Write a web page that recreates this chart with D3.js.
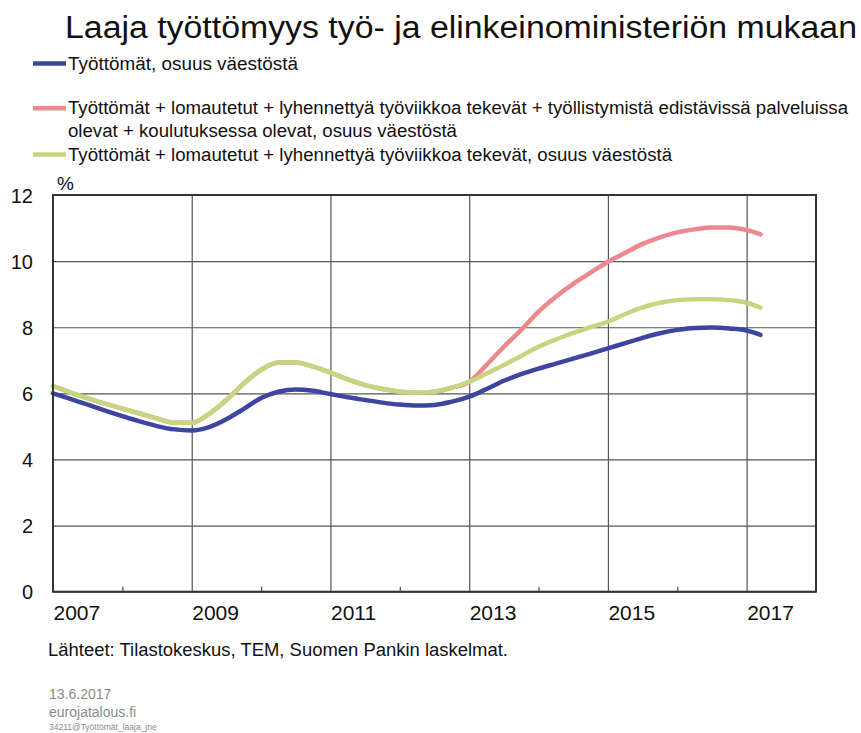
<!DOCTYPE html>
<html>
<head>
<meta charset="utf-8">
<script src="https://cdn.jsdelivr.net/npm/d3@7"></script>
<style>
  html, body { margin: 0; padding: 0; background: #fff; }
  svg { display: block; font-family: "Liberation Sans", Arial, sans-serif; }
</style>
</head>
<body>
<svg id="chart" width="861" height="733"></svg>
<script>
// ---- data ----
const dates = [2007.0, 2007.25, 2007.5, 2007.75, 2008.0, 2008.25, 2008.5, 2008.75,
  2009.0, 2009.25, 2009.5, 2009.75, 2010.0, 2010.25, 2010.5, 2010.75,
  2011.0, 2011.25, 2011.5, 2011.75, 2012.0, 2012.25, 2012.5, 2012.75,
  2013.0, 2013.25, 2013.5, 2013.75, 2014.0, 2014.25, 2014.5, 2014.75,
  2015.0, 2015.25, 2015.5, 2015.75, 2016.0, 2016.25, 2016.5, 2016.75,
  2017.0, 2017.2];

const unemployed = [6.0, 5.83, 5.66, 5.48, 5.31, 5.15, 5.01, 4.91,
  4.88, 4.98, 5.22, 5.53, 5.86, 6.05, 6.12, 6.08,
  5.98, 5.88, 5.8, 5.72, 5.66, 5.63, 5.65, 5.75,
  5.9, 6.13, 6.38, 6.58, 6.75, 6.9, 7.05, 7.2,
  7.36, 7.52, 7.68, 7.82, 7.92, 7.98, 7.99, 7.96,
  7.9, 7.77];

const broadAll = [6.22, 6.03, 5.85, 5.69, 5.54, 5.39, 5.24, 5.11,
  5.11, 5.38, 5.8, 6.3, 6.71, 6.93, 6.93, 6.81,
  6.63, 6.42, 6.25, 6.13, 6.05, 6.02, 6.05, 6.17,
  6.35, 6.86, 7.41, 7.92, 8.47, 8.92, 9.31, 9.65,
  9.98, 10.25, 10.52, 10.72, 10.87, 10.96, 11.02, 11.02,
  10.94, 10.81];

const broadLaidOff = [6.22, 6.03, 5.85, 5.69, 5.54, 5.39, 5.24, 5.11,
  5.11, 5.38, 5.8, 6.3, 6.71, 6.93, 6.93, 6.81,
  6.63, 6.42, 6.25, 6.13, 6.05, 6.02, 6.05, 6.17,
  6.35, 6.6, 6.86, 7.13, 7.41, 7.63, 7.83, 8.0,
  8.17, 8.4, 8.6, 8.74, 8.82, 8.85, 8.85, 8.82,
  8.74, 8.59];

const yTicks = [0, 2, 4, 6, 8, 10, 12];
const xLabelYears = [2007, 2009, 2011, 2013, 2015, 2017];
const xGridYears = [2009, 2011, 2013, 2015, 2017];
const xMinorYears = [2008, 2010, 2012, 2014, 2016];

const titleText = "Laaja työttömyys työ- ja elinkeinoministeriön mukaan";
const legendLabels = [
  ["Työttömät, osuus väestöstä"],
  ["Työttömät + lomautetut + lyhennettyä työviikkoa tekevät + työllistymistä edistävissä palveluissa",
   "olevat + koulutuksessa olevat, osuus väestöstä"],
  ["Työttömät + lomautetut + lyhennettyä työviikkoa tekevät, osuus väestöstä"]
];
const sourceText = "Lähteet: Tilastokeskus, TEM, Suomen Pankin laskelmat.";
const footerDate = "13.6.2017";
const footerSite = "eurojatalous.fi";
const footerCode = "34211@Työttömät_laaja_jne";

// ---- drawing ----
(function () {
const svg = d3.select("#chart");
const colors = { blue: "#3d45a0", pink: "#ec8890", green: "#c6d680" };

const pLeft = 53, pRight = 816, pTop = 195, pBottom = 591.7;
const x = d3.scaleLinear().domain([2007, 2018]).range([pLeft, pRight]);
const y = d3.scaleLinear().domain([0, 12]).range([pBottom, pTop]);

// title
svg.append("text").attr("x", 65).attr("y", 37.5)
  .attr("font-size", 31).attr("fill", "#111")
  .attr("textLength", 792).attr("lengthAdjust", "spacingAndGlyphs")
  .text(titleText);

// legend
const legendItems = [
  { color: colors.blue, y: 63.5, lines: legendLabels[0], widths: [230] },
  { color: colors.pink, y: 108.3, lines: legendLabels[1], widths: [780, 389] },
  { color: colors.green, y: 154.5, lines: legendLabels[2], widths: [604] }
];
legendItems.forEach(it => {
  svg.append("line").attr("x1", 33).attr("x2", 66)
    .attr("y1", it.y).attr("y2", it.y)
    .attr("stroke", it.color).attr("stroke-width", 4.5);
  it.lines.forEach((t, i) => {
    svg.append("text").attr("x", 68).attr("y", it.y + 6 + i * 22.7)
      .attr("font-size", 18).attr("fill", "#111")
      .attr("textLength", it.widths[i]).attr("lengthAdjust", "spacingAndGlyphs")
      .text(t);
  });
});

// horizontal gridlines
const gy = svg.append("g").attr("transform", `translate(${pLeft},0)`)
  .call(d3.axisLeft(y).tickValues(yTicks).tickSize(-(pRight - pLeft)).tickFormat(""));
gy.select(".domain").remove();
gy.selectAll("line").attr("stroke", "#555").attr("stroke-width", 1.2);

// vertical gridlines
const gx = svg.append("g").attr("transform", `translate(0,${pBottom})`)
  .call(d3.axisBottom(x).tickValues(xGridYears).tickSize(-(pBottom - pTop)).tickFormat(""));
gx.select(".domain").remove();
gx.selectAll("line").attr("stroke", "#555").attr("stroke-width", 1.2);

// minor ticks
const gm = svg.append("g").attr("transform", `translate(0,${pBottom})`)
  .call(d3.axisBottom(x).tickValues(xMinorYears).tickSize(-5).tickFormat(""));
gm.select(".domain").remove();
gm.selectAll("line").attr("stroke", "#555").attr("stroke-width", 1.2);

// y labels
const yl = svg.append("g").attr("transform", `translate(${pLeft},0)`)
  .call(d3.axisLeft(y).tickValues(yTicks).tickSize(0).tickPadding(20).tickFormat(d3.format("d")));
yl.select(".domain").remove();
yl.selectAll("text").attr("font-size", 20).attr("fill", "#111")
  .attr("font-family", "Liberation Sans, Arial, sans-serif").attr("dy", "0.35em");

// x labels
const xl = svg.append("g").attr("transform", `translate(0,${pBottom})`)
  .call(d3.axisBottom(x).tickValues(xLabelYears).tickSize(0).tickPadding(13).tickFormat(d3.format("d")));
xl.select(".domain").remove();
xl.selectAll("text").attr("font-size", 21).attr("fill", "#111")
  .attr("text-anchor", "start")
  .attr("font-family", "Liberation Sans, Arial, sans-serif");

// % label
svg.append("text").attr("x", 57).attr("y", 190).attr("font-size", 19).attr("fill", "#111").text("%");

// lines
const line = d3.line().x((d, i) => x(dates[i])).y(d => y(d)).curve(d3.curveMonotoneX);
[[broadAll, colors.pink], [broadLaidOff, colors.green], [unemployed, colors.blue]].forEach(([s, c]) => {
  svg.append("path").datum(s).attr("d", line)
    .attr("fill", "none").attr("stroke", c).attr("stroke-width", 4.5)
    .attr("stroke-linejoin", "round").attr("stroke-linecap", "round");
});

// frame
svg.append("rect").attr("x", pLeft).attr("y", pTop).attr("width", pRight - pLeft).attr("height", pBottom - pTop)
  .attr("fill", "none").attr("stroke", "#333").attr("stroke-width", 2);

// source & footer
svg.append("text").attr("x", 48).attr("y", 656).attr("font-size", 18).attr("fill", "#111")
  .attr("textLength", 460).attr("lengthAdjust", "spacingAndGlyphs").text(sourceText);
svg.append("text").attr("x", 49).attr("y", 699).attr("font-size", 14).attr("fill", "#8a8a8a").text(footerDate);
svg.append("text").attr("x", 49).attr("y", 717).attr("font-size", 14).attr("fill", "#8a8a8a").text(footerSite);
svg.append("text").attr("x", 49).attr("y", 729.5).attr("font-size", 8.5).attr("fill", "#8a8a8a").text(footerCode);
})();
</script>
</body>
</html>
